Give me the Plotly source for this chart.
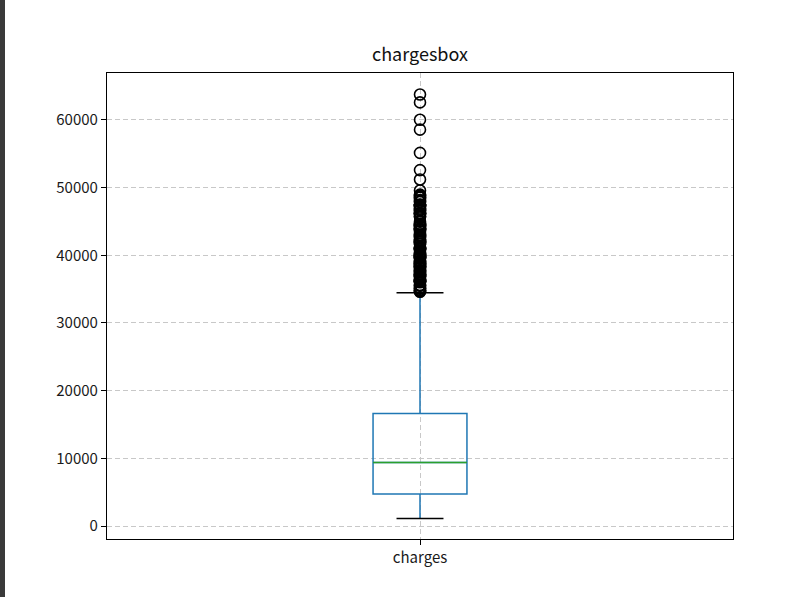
import plotly.graph_objects as go

# ---- data ----
category = ["charges"]
q1 = [4740.29]
median = [9382.03]
q3 = [16639.91]
lower_whisker = [1121.87]
upper_whisker = [34472.84]
outliers = [
    63770.43, 62592.87, 60021.40, 58571.07, 55135.40, 52590.83, 51194.56,
    49577.66, 48970.25, 48885.14, 48824.45, 48675.52, 48549.18, 48517.56,
    48173.36, 47928.03, 47896.79, 47496.49, 47462.89, 47403.88, 47305.31,
    47291.06, 47269.85, 47055.53, 46889.26, 46718.16, 46661.44, 46599.11,
    46255.11, 46200.99, 46151.12, 46130.53, 46113.51, 45863.21, 45710.21,
    45702.02, 45008.96, 44641.20, 44585.46, 44501.40, 44423.80, 44400.41,
    44260.75, 44202.65, 43943.88, 43921.18, 43896.38, 43813.87, 43753.34,
    43578.94, 43254.42, 42983.46, 42969.85, 42856.84, 42760.50, 42560.43,
    42303.69, 42124.52, 42112.24, 41999.52, 41949.24, 41919.10, 41676.08,
    41661.60, 41097.16, 41034.22, 40974.16, 40941.29, 40932.43, 40904.20,
    40720.55, 40419.02, 40273.65, 40182.25, 40103.89, 40003.33, 39983.43,
    39871.70, 39836.52, 39774.28, 39727.61, 39725.52, 39611.76, 39597.41,
    39556.49, 39241.44, 39125.33, 39047.29, 38998.55, 38792.69, 38746.36,
    38711.00, 38709.18, 38511.63, 38415.47, 38344.57, 38282.75, 38245.59,
    38126.25, 37829.72, 37742.58, 37701.88, 37607.53, 37484.45, 37465.34,
    37270.15, 37165.16, 37133.90, 37079.37, 36950.26, 36910.61, 36898.73,
    36837.47, 36580.28, 36397.58, 36307.80, 36219.41, 36197.70, 36189.10,
    36149.48, 36124.57, 36085.22, 36021.01, 35595.59, 35585.58, 35491.64,
    35160.13, 35147.53, 35069.37, 34838.87, 34806.47, 34779.62, 34672.15,
    34617.84,
]
y_ticks = [0, 10000, 20000, 30000, 40000, 50000, 60000]
y_tick_labels = ["0", "10000", "20000", "30000", "40000", "50000", "60000"]
title_text = "chargesbox"

# ---- layout constants ----
POS = 1.0
BOX_W = 0.15
CAP_W = BOX_W / 2
FONT = "Noto Sans CJK SC"
BLUE = "#1f77b4"
GREEN = "#2ca02c"
LW = 1.5

fig = go.Figure()

# box + whiskers (blue)
fig.add_trace(go.Box(
    x=[POS], q1=q1, median=median, q3=q3,
    lowerfence=lower_whisker, upperfence=upper_whisker,
    width=BOX_W, whiskerwidth=0, boxpoints=False,
    line=dict(color=BLUE, width=LW), fillcolor="rgba(0,0,0,0)",
    showlegend=False, name=category[0],
))

# caps (black)
cap_x, cap_y = [], []
for v in (lower_whisker[0], upper_whisker[0]):
    cap_x += [POS - CAP_W / 2, POS + CAP_W / 2, None]
    cap_y += [v, v, None]
fig.add_trace(go.Scatter(x=cap_x, y=cap_y, mode="lines",
                         line=dict(color="black", width=LW),
                         showlegend=False, hoverinfo="skip"))

# median (green)
fig.add_trace(go.Scatter(x=[POS - BOX_W / 2, POS + BOX_W / 2],
                         y=[median[0], median[0]], mode="lines",
                         line=dict(color=GREEN, width=LW),
                         showlegend=False, hoverinfo="skip"))

# fliers
fig.add_trace(go.Scatter(x=[POS] * len(outliers), y=outliers, mode="markers",
                         marker=dict(symbol="circle-open", size=11,
                                     color="black", line=dict(width=1.6)),
                         showlegend=False))

W, H = 798, 597
L, R, T, B = 107, 65, 73, 58
pw, ph = W - L - R, H - T - B

fig.update_layout(
    width=W, height=H,
    margin=dict(l=L, r=R, t=T, b=B, pad=0),
    paper_bgcolor="white", plot_bgcolor="white",
    font=dict(family=FONT, size=15, color="#1a1a1a"),
    title=dict(text=title_text, x=0.5, xref="paper", xanchor="center",
               y=1 - 55 / H, yref="container", yanchor="middle",
               font=dict(family=FONT, size=18, color="#111111")),
    xaxis=dict(range=[0.5, 1.5], tickvals=[POS], ticktext=category,
               showgrid=True, gridcolor="#c8c8c8", griddash="5px,3px", gridwidth=1,
               showline=True, linecolor="black", linewidth=1.2, mirror=True,
               ticks="outside", ticklen=5, tickcolor="black", zeroline=False,
               tickfont=dict(size=15)),
    yaxis=dict(range=[-1921, 66940], tickvals=y_ticks, ticktext=y_tick_labels,
               showgrid=True, gridcolor="#c8c8c8", griddash="5px,3px", gridwidth=1,
               showline=True, linecolor="black", linewidth=1.2, mirror=True,
               ticks="outside", ticklen=5, tickcolor="black", zeroline=False,
               tickfont=dict(size=15)),
    shapes=[dict(type="rect", xref="paper", yref="paper",
                 x0=-L / pw, x1=(5 - L) / pw, y0=-B / ph, y1=(H - B) / ph,
                 fillcolor="#3a3a3a", line=dict(width=0), layer="above")],
)

fig.write_html("out.html",
               config={"displayModeBar": False},
               post_script="document.body.style.margin='0';document.body.style.overflow='hidden';")
